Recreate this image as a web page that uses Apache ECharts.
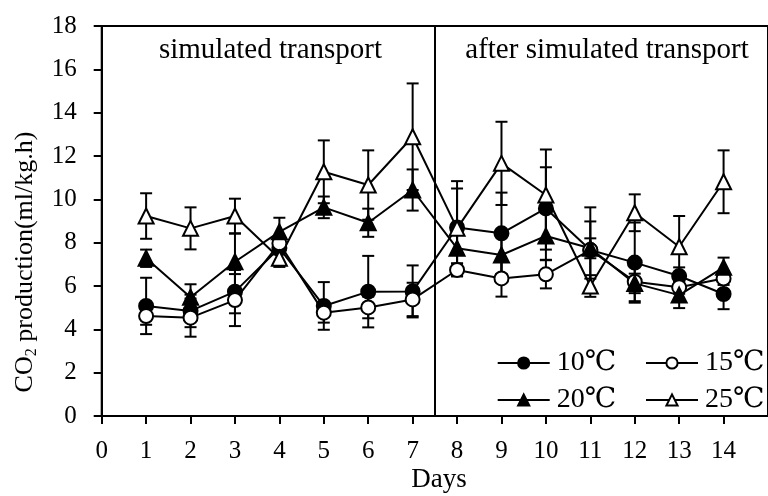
<!DOCTYPE html>
<html>
<head>
<meta charset="utf-8">
<script src="https://cdn.jsdelivr.net/npm/echarts@6/dist/echarts.min.js"></script>
<style>
	html, body { margin: 0; padding: 0; background: #fff; }
	#main { width: 768px; height: 496px; }
</style>
</head>
<body>
<div id="main"></div>
<script>
// 天数
var days = [1, 2, 3, 4, 5, 6, 7, 8, 9, 10, 11, 12, 13, 14];

// 各温度的平均值和标准差
var t10 = [5.08, 4.85, 5.74, 7.75, 5.08, 5.74, 5.75, 8.7, 8.43, 9.58, 7.66, 7.08, 6.46, 5.63];
var sd10 = [1.3, 0.75, 1.0, 0.3, 1.1, 1.65, 1.2, 1.8, 1.88, 1.9, 1.97, 1.85, 0.4, 0.7];
var t15 = [4.61, 4.54, 5.35, 7.97, 4.77, 5.01, 5.38, 6.74, 6.35, 6.54, 7.66, 6.2, 5.94, 6.35];
var sd15 = [0.4, 0.88, 1.2, 0.3, 0.46, 0.5, 0.77, 0.3, 0.84, 0.65, 1.32, 0.9, 0.3, 0.3];
var t20 = [7.28, 5.48, 7.12, 8.5, 9.63, 8.92, 10.43, 7.74, 7.43, 8.31, 7.74, 6.12, 5.58, 6.86];
var sd20 = [0.4, 0.6, 1.3, 0.65, 0.5, 0.65, 0.95, 0.7, 0.9, 1.1, 0.46, 0.45, 0.6, 0.45];
var t25 = [9.23, 8.66, 9.23, 7.28, 11.27, 10.66, 12.89, 8.66, 11.66, 10.2, 6.0, 9.38, 7.81, 10.81];
var sd25 = [1.05, 0.97, 0.8, 0.4, 1.45, 1.6, 2.46, 2.18, 1.92, 2.1, 0.5, 0.85, 1.42, 1.45];

var names = ['10℃', '15℃', '20℃', '25℃'];
var phaseSplit = 7.5;

var serif = '"Liberation Serif", "Times New Roman", "DejaVu Serif", "Noto Sans CJK SC", serif';

function pairs(vals) {
	var out = [];
	for(var i = 0; i < days.length; i++) {
		out.push([days[i], vals[i]]);
	}
	return out;
}

function errData(vals, sds) {
	var out = [];
	for(var i = 0; i < days.length; i++) {
		out.push([days[i], vals[i] - sds[i], vals[i] + sds[i]]);
	}
	return out;
}

// 误差线
function renderErr(params, api) {
	var lo = api.coord([api.value(0), api.value(1)]);
	var hi = api.coord([api.value(0), api.value(2)]);
	var w = 6;
	var st = { stroke: '#000', lineWidth: 2 };
	return {
		type: 'group',
		children: [
			{ type: 'line', shape: { x1: lo[0], y1: lo[1], x2: hi[0], y2: hi[1] }, style: st },
			{ type: 'line', shape: { x1: lo[0] - w, y1: lo[1], x2: lo[0] + w, y2: lo[1] }, style: st },
			{ type: 'line', shape: { x1: hi[0] - w, y1: hi[1], x2: hi[0] + w, y2: hi[1] }, style: st }
		]
	};
}

function errSeries(vals, sds) {
	return {
		type: 'custom',
		renderItem: renderErr,
		encode: { x: 0, y: [1, 2] },
		data: errData(vals, sds),
		z: 1,
		silent: true
	};
}

function lineSeries(name, vals, symbol, fill) {
	return {
		name: name,
		type: 'line',
		data: pairs(vals),
		symbol: symbol,
		symbolSize: symbol == 'triangle' ? 15 : 14,
		lineStyle: { color: '#000', width: 2 },
		itemStyle: { color: fill, borderColor: '#000', borderWidth: 2 },
		z: 3,
		animation: false
	};
}

// 图例，一个图例只放一项，方便定位
function legendItem(name, left, top) {
	return {
		left: left,
		top: top,
		orient: 'horizontal',
		padding: 0,
		itemWidth: 52,
		itemHeight: 14,
		data: [name],
		textStyle: { fontFamily: serif, fontSize: 28, color: '#000', lineHeight: 30, padding: [0, 0, 0, 2] }
	};
}

var myChart = echarts.init(document.getElementById('main'));

var s10 = lineSeries(names[0], t10, 'circle', '#000');
s10.markLine = {
	silent: true,
	symbol: 'none',
	label: { show: false },
	lineStyle: { color: '#000', width: 2, type: 'solid' },
	data: [{ xAxis: phaseSplit }],
	animation: false
};

var option = {
	backgroundColor: '#fff',
	animation: false,
	grid: {
		left: 101.7,
		top: 26,
		right: -8.7,
		bottom: 80,
		show: true,
		borderColor: '#000',
		borderWidth: 2
	},
	legend: [
		legendItem(names[0], 496.7, 348),
		legendItem(names[1], 645, 348),
		legendItem(names[2], 496.7, 385),
		legendItem(names[3], 645, 385)
	],
	xAxis: {
		type: 'value',
		min: 0,
		max: 15,
		interval: 1,
		axisLine: { lineStyle: { color: '#000', width: 2 } },
		axisTick: { inside: false, length: 8, lineStyle: { color: '#000', width: 2 } },
		axisLabel: { color: '#000', fontFamily: serif, fontSize: 25, margin: 23, showMaxLabel: false },
		splitLine: { show: false }
	},
	yAxis: {
		type: 'value',
		min: 0,
		max: 18,
		interval: 2,
		axisLine: { show: true, lineStyle: { color: '#000', width: 2 } },
		axisTick: { show: true, inside: false, length: 8, lineStyle: { color: '#000', width: 2 } },
		axisLabel: { color: '#000', fontFamily: serif, fontSize: 25, margin: 25 },
		splitLine: { show: false }
	},
	graphic: [
		{
			type: 'text', x: 270.5, y: 50,
			style: { text: 'simulated transport', fill: '#000', font: '29px ' + serif, align: 'center', verticalAlign: 'middle' }
		},
		{
			type: 'text', x: 607, y: 50,
			style: { text: 'after simulated transport', fill: '#000', font: '29px ' + serif, align: 'center', verticalAlign: 'middle' }
		},
		{
			type: 'text', x: 439, y: 480,
			style: { text: 'Days', fill: '#000', font: '27px ' + serif, align: 'center', verticalAlign: 'middle' }
		},
		{
			type: 'text', x: 25, y: 262, rotation: Math.PI / 2,
			style: {
				text: 'CO{sub|2} production(ml/kg.h)',
				fill: '#000',
				fontFamily: serif,
				fontSize: 26,
				lineHeight: 30,
				align: 'center',
				verticalAlign: 'middle',
				rich: {
					sub: { fontFamily: serif, fontSize: 16, lineHeight: 16, verticalAlign: 'bottom', fill: '#000' }
				}
			}
		}
	],
	series: [
		errSeries(t10, sd10),
		errSeries(t15, sd15),
		errSeries(t20, sd20),
		errSeries(t25, sd25),
		s10,
		lineSeries(names[1], t15, 'circle', '#fff'),
		lineSeries(names[2], t20, 'triangle', '#000'),
		lineSeries(names[3], t25, 'triangle', '#fff')
	]
};

myChart.setOption(option);
</script>
</body>
</html>
